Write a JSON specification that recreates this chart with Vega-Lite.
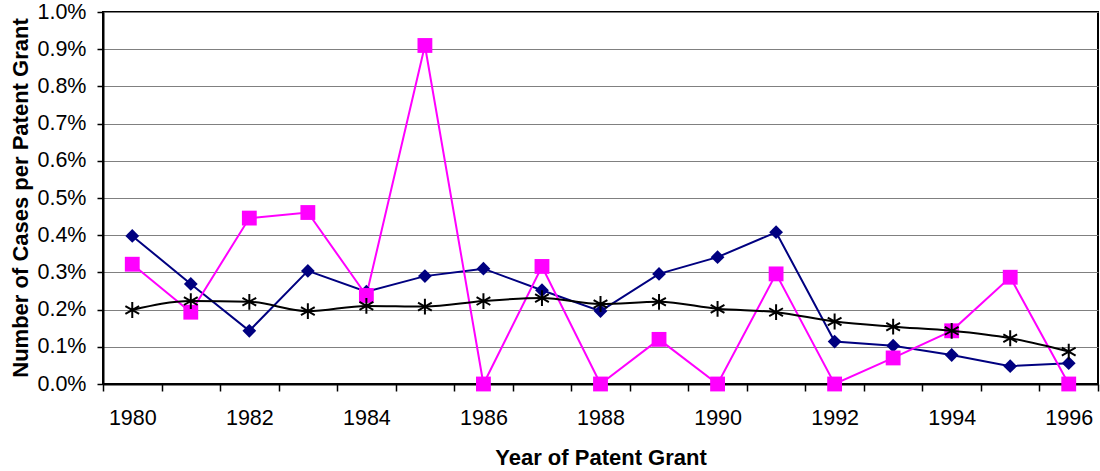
{
  "$schema": "https://vega.github.io/schema/vega-lite/v6.json",
  "autosize": "none",
  "width": 995,
  "height": 372,
  "padding": {"left": 103, "top": 12, "right": 2, "bottom": 87},
  "background": "white",
  "title": {
    "text": "Number of Cases per Patent Grant",
    "orient": "left", "anchor": "middle",
    "font": "Liberation Sans", "fontSize": 22, "fontWeight": "bold", "color": "black",
    "offset": 4, "limit": 1000
  },
  "config": {
    "font": "Liberation Sans",
    "view": {"stroke": "black", "strokeWidth": 2},
    "axis": {"labelFont": "Liberation Sans", "titleFont": "Liberation Sans", "labelColor": "black", "titleColor": "black", "domainColor": "black", "tickColor": "black", "domainWidth": 2, "tickWidth": 1.5}
  },
  "data": {
    "values": [
      {"year": 1980, "series": "navy", "value": 0.00398},
      {"year": 1981, "series": "navy", "value": 0.00269},
      {"year": 1982, "series": "navy", "value": 0.00143},
      {"year": 1983, "series": "navy", "value": 0.00304},
      {"year": 1984, "series": "navy", "value": 0.00248},
      {"year": 1985, "series": "navy", "value": 0.00290},
      {"year": 1986, "series": "navy", "value": 0.00310},
      {"year": 1987, "series": "navy", "value": 0.00252},
      {"year": 1988, "series": "navy", "value": 0.00196},
      {"year": 1989, "series": "navy", "value": 0.00296},
      {"year": 1990, "series": "navy", "value": 0.00341},
      {"year": 1991, "series": "navy", "value": 0.00408},
      {"year": 1992, "series": "navy", "value": 0.00114},
      {"year": 1993, "series": "navy", "value": 0.00103},
      {"year": 1994, "series": "navy", "value": 0.00078},
      {"year": 1995, "series": "navy", "value": 0.00048},
      {"year": 1996, "series": "navy", "value": 0.00056},
      {"year": 1980, "series": "pink", "value": 0.00322},
      {"year": 1981, "series": "pink", "value": 0.00193},
      {"year": 1982, "series": "pink", "value": 0.00446},
      {"year": 1983, "series": "pink", "value": 0.00461},
      {"year": 1984, "series": "pink", "value": 0.00238},
      {"year": 1985, "series": "pink", "value": 0.00910},
      {"year": 1986, "series": "pink", "value": 0.0},
      {"year": 1987, "series": "pink", "value": 0.00316},
      {"year": 1988, "series": "pink", "value": 0.0},
      {"year": 1989, "series": "pink", "value": 0.00120},
      {"year": 1990, "series": "pink", "value": 0.0},
      {"year": 1991, "series": "pink", "value": 0.00296},
      {"year": 1992, "series": "pink", "value": 0.0},
      {"year": 1993, "series": "pink", "value": 0.00070},
      {"year": 1994, "series": "pink", "value": 0.00143},
      {"year": 1995, "series": "pink", "value": 0.00287},
      {"year": 1996, "series": "pink", "value": 0.0},
      {"year": 1980, "series": "black", "value": 0.00199},
      {"year": 1981, "series": "black", "value": 0.00223},
      {"year": 1982, "series": "black", "value": 0.00221},
      {"year": 1983, "series": "black", "value": 0.00196},
      {"year": 1984, "series": "black", "value": 0.00210},
      {"year": 1985, "series": "black", "value": 0.00208},
      {"year": 1986, "series": "black", "value": 0.00223},
      {"year": 1987, "series": "black", "value": 0.00231},
      {"year": 1988, "series": "black", "value": 0.00215},
      {"year": 1989, "series": "black", "value": 0.00221},
      {"year": 1990, "series": "black", "value": 0.00202},
      {"year": 1991, "series": "black", "value": 0.00193},
      {"year": 1992, "series": "black", "value": 0.00168},
      {"year": 1993, "series": "black", "value": 0.00154},
      {"year": 1994, "series": "black", "value": 0.00143},
      {"year": 1995, "series": "black", "value": 0.00123},
      {"year": 1996, "series": "black", "value": 0.00087}
    ]
  },
  "encoding": {
    "x": {
      "field": "year", "type": "quantitative",
      "scale": {"domain": [1979.5, 1996.5], "nice": false, "zero": false},
      "axis": {
        "title": "Year of Patent Grant",
        "titleFontSize": 22, "titleFontWeight": "bold", "titlePadding": 19,
        "values": [1979.5,1980.5,1981.5,1982.5,1983.5,1984.5,1985.5,1986.5,1987.5,1988.5,1989.5,1990.5,1991.5,1992.5,1993.5,1994.5,1995.5,1996.5],
        "labelExpr": "datum.value % 2 == 1.5 ? '' + (datum.value + 0.5) : ''",
        "labelOffset": 29.3,
        "labelOverlap": false, "labelBound": false, "labelFlush": false,
        "labelFontSize": 21.5, "labelPadding": 16,
        "tickSize": 7, "grid": false
      }
    },
    "y": {
      "field": "value", "type": "quantitative",
      "scale": {"domain": [0, 0.01], "nice": false},
      "axis": {
        "title": null,
        "values": [0,0.001,0.002,0.003,0.004,0.005,0.006,0.007,0.008,0.009,0.01],
        "format": ".1%", "labelFontSize": 21.5, "labelPadding": 11, "tickSize": 6,
        "labelOverlap": false,
        "grid": true, "gridColor": "#808080", "gridWidth": 1, "gridOpacity": 1,
        "labelFlush": false, "labelBound": false
      }
    }
  },
  "layer": [
    {
      "transform": [{"filter": "datum.series != 'black'"}],
      "mark": {"type": "line", "strokeWidth": 2},
      "encoding": {
        "color": {"field": "series", "type": "nominal", "legend": null,
          "scale": {"domain": ["navy", "pink", "black"], "range": ["#000080", "#FF00FF", "#000000"]}}
      }
    },
    {
      "transform": [{"filter": "datum.series == 'navy'"}],
      "mark": {"type": "point", "shape": "diamond", "filled": true, "color": "#000080", "size": 190, "opacity": 1}
    },
    {
      "transform": [{"filter": "datum.series == 'pink'"}],
      "mark": {"type": "point", "shape": "square", "filled": true, "color": "#FF00FF", "size": 220, "opacity": 1}
    },
    {
      "transform": [{"filter": "datum.series == 'black'"}],
      "mark": {"type": "line", "color": "black", "strokeWidth": 2, "interpolate": "monotone"}
    },
    {
      "transform": [{"filter": "datum.series == 'black'"}],
      "mark": {"type": "point", "shape": "M0,-1L0,1M-0.87,-0.5L0.87,0.5M-0.87,0.5L0.87,-0.5", "filled": false, "stroke": "black", "strokeWidth": 2, "size": 250, "opacity": 1}
    }
  ]
}
